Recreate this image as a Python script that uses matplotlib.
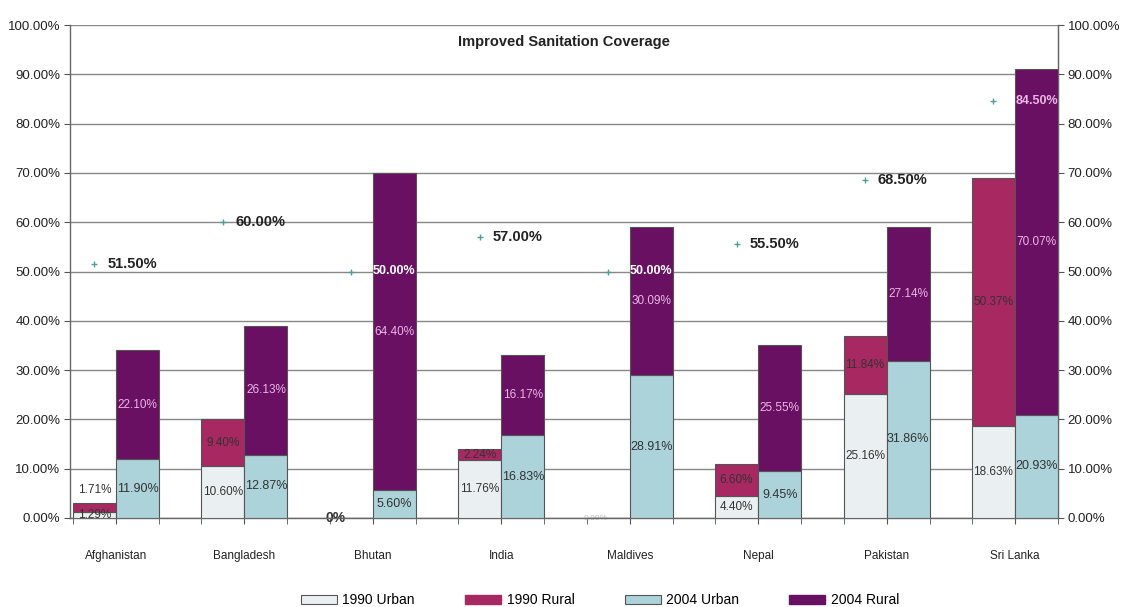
import matplotlib
matplotlib.use("Agg")
import matplotlib.pyplot as plt
from matplotlib.patches import Patch
import numpy as np

plt.rcParams['font.family'] = ['Liberation Sans', 'DejaVu Sans']

countries = ["Afghanistan", "Bangladesh", "Bhutan", "India", "Maldives", "Nepal", "Pakistan", "Sri Lanka"]
urban_1990 = [1.29, 10.60, 0.0, 11.76, 0.0, 4.40, 25.16, 18.63]
rural_1990 = [1.71, 9.40, 0.0, 2.24, 0.0, 6.60, 11.84, 50.37]
urban_2004 = [11.90, 12.87, 5.60, 16.83, 28.91, 9.45, 31.86, 20.93]
rural_2004 = [22.10, 26.13, 64.40, 16.17, 30.09, 25.55, 27.14, 70.07]
targets = [51.50, 60.00, 50.00, 57.00, 50.00, 55.50, 68.50, 84.50]
series_names = ["1990 Urban", "1990 Rural", "2004 Urban", "2004 Rural"]
yticks = [0, 10, 20, 30, 40, 50, 60, 70, 80, 90, 100]

c_u90 = "#EAF0F2"
c_r90 = "#A82862"
c_u04 = "#ABD3D9"
c_r04 = "#6A1062"
edge = "#555555"

fig = plt.figure(figsize=(11.29, 6.07), dpi=100)
ax = fig.add_axes([70/1129, 1-518/607, 988/1129, 493/607])

x = np.arange(len(countries))
w = 0.335
x90 = x - w/2
x04 = x + w/2

u90 = np.array(urban_1990); r90 = np.array(rural_1990)
u04 = np.array(urban_2004); r04 = np.array(rural_2004)

ax.bar(x90, u90, w, color=c_u90, edgecolor=edge, linewidth=0.8, zorder=3)
ax.bar(x90, r90, w, bottom=u90, color=c_r90, edgecolor=edge, linewidth=0.8, zorder=3)
ax.bar(x04, u04, w, color=c_u04, edgecolor=edge, linewidth=0.8, zorder=3)
ax.bar(x04, r04, w, bottom=u04, color=c_r04, edgecolor=edge, linewidth=0.8, zorder=3)

lab_fs = 8.5
dark = "#333333"
pink = "#E9B6E6"
for i in range(len(countries)):
    tot90 = u90[i] + r90[i]
    if tot90 > 0:
        ax.text(x90[i], u90[i]/2, f"{u90[i]:.2f}%", ha='center', va='center', fontsize=lab_fs, color=dark, zorder=5)
        ry = u90[i] + r90[i]/2
        if r90[i] < 2.0:
            ry = u90[i] + 4.3
        ax.text(x90[i], ry, f"{r90[i]:.2f}%", ha='center', va='center', fontsize=lab_fs, color=dark, zorder=5)
    ax.text(x04[i], u04[i]/2, f"{u04[i]:.2f}%", ha='center', va='center', fontsize=lab_fs + 0.5, color=dark, zorder=5)
    ax.text(x04[i], u04[i] + r04[i]/2, f"{r04[i]:.2f}%", ha='center', va='center', fontsize=lab_fs, color=pink, zorder=5)

# zero labels for empty 1990 bars
ax.text(x90[2] - 0.12, 0, "0%", ha='center', va='center', fontsize=10, fontweight='bold', color="#333333", zorder=2)
ax.text(x90[4] - 0.1, 0, "0.00%", ha='center', va='center', fontsize=6, color="#BBBBBB", zorder=2)

# target markers and labels
ax.plot(x90, targets, linestyle='none', marker='+', markersize=4, color="#4E9E9A", zorder=6)
for i, t in enumerate(targets):
    if t < u04[i] + r04[i]:
        ax.text(x04[i], t, f"{t:.2f}%", ha='center', va='center', fontsize=9, fontweight='bold',
                color="white" if i != 7 else pink, zorder=7)
    else:
        ax.text(x90[i] + 0.1, t, f"{t:.2f}%", ha='left', va='center', fontsize=10.5, fontweight='bold',
                color="#222222", zorder=7)

ax.set_xlim(-0.358, 7.325)
ax.set_ylim(0, 100)
ax.set_yticks(yticks)
ax.set_yticklabels([f"{v:.2f}%" for v in yticks], fontsize=9.5, color="#222222")
ax.yaxis.grid(True, color="#888888", linewidth=1.0, zorder=0)
ax.set_axisbelow(True)
ax.tick_params(axis='y', length=4, direction='out', color="#555555", pad=3)

ax.set_xticks(x)
ax.set_xticklabels(countries, fontsize=8.5, color="#222222")
ax.set_xticks(np.concatenate([x - w, x + w]), minor=True)
ax.tick_params(axis='x', which='major', length=4, direction='out', color="#555555", pad=19)
ax.tick_params(axis='x', which='minor', length=4, direction='out', color="#555555")

for s in ['left', 'right', 'bottom']:
    ax.spines[s].set_color("#666666")
    ax.spines[s].set_linewidth(1.0)
ax.spines['top'].set_visible(False)

ax2 = ax.twinx()
ax2.set_ylim(0, 100)
ax2.set_yticks(yticks)
ax2.set_yticklabels([f"{v:.2f}%" for v in yticks], fontsize=9.5, color="#222222")
ax2.tick_params(axis='y', length=4, direction='out', color="#555555", pad=3)
for s in ['top', 'left', 'bottom']:
    ax2.spines[s].set_visible(False)
ax2.spines['right'].set_color("#666666")

ax.text(0.5, 0.966, "Improved Sanitation Coverage", transform=ax.transAxes, ha='center', va='center',
        fontsize=10.5, fontweight='bold', color="#222222")

handles = [Patch(facecolor=c_u90, edgecolor=edge, linewidth=0.8),
           Patch(facecolor=c_r90, edgecolor=c_r90),
           Patch(facecolor=c_u04, edgecolor=edge, linewidth=0.8),
           Patch(facecolor=c_r04, edgecolor=c_r04)]
fig.legend(handles, series_names, loc='center', bbox_to_anchor=(600/1129, 1-600/607), ncol=4,
           frameon=False, fontsize=10, handlelength=2.6, handleheight=0.6, columnspacing=3.6,
           handletextpad=0.4)

fig.savefig("out.png", dpi=100, facecolor="white")
